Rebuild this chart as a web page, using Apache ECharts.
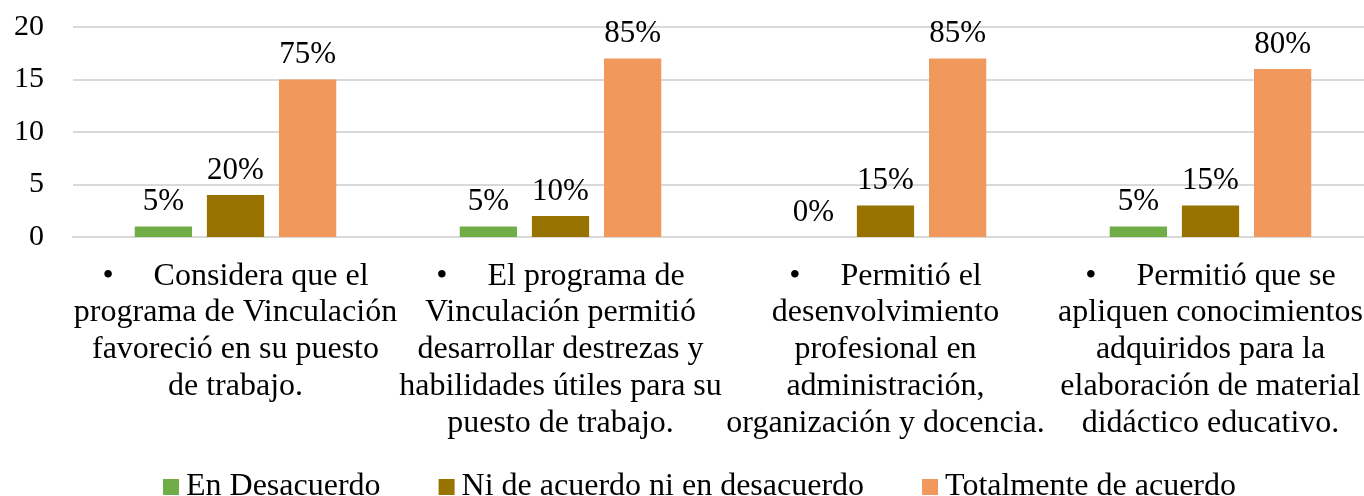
<!DOCTYPE html>
<html>
<head>
<meta charset="utf-8">
<script src="https://cdn.jsdelivr.net/npm/echarts@6/dist/echarts.min.js"></script>
<style>
  html, body { margin: 0; padding: 0; background: #fff; overflow: hidden; }
  #chart { width: 1373px; height: 496px; }
</style>
</head>
<body>
<div id="chart"></div>
<script>
// categories (line breaks as in the picture)
var categories = [
  '•     Considera que el\nprograma de Vinculación\nfavoreció en su puesto\nde trabajo.',
  '•     El programa de\nVinculación permitió\ndesarrollar destrezas y\nhabilidades útiles para su\npuesto de trabajo.',
  '•     Permitió el\ndesenvolvimiento\nprofesional en\nadministración,\norganización y docencia.',
  '•     Permitió que se\napliquen conocimientos\nadquiridos para la\nelaboración de material\ndidáctico educativo.'
];
var seriesNames = ['En Desacuerdo', 'Ni de acuerdo ni en desacuerdo', 'Totalmente de acuerdo'];
var desacuerdo = [1, 1, 0, 1];
var neutral = [4, 2, 3, 3];
var totalmente = [15, 17, 17, 16];
// percent labels shown over the bars
var desacuerdoPct = ['5%', '5%', '0%', '5%'];
var neutralPct = ['20%', '10%', '15%', '15%'];
var totalmentePct = ['75%', '85%', '85%', '80%'];
var yTicks = [0, 5, 10, 15, 20];

var colors = ['#70ad47', '#997300', '#f1995c'];
var font = 'Liberation Serif';

function barSeries(name, values, pct, color) {
  return {
    name: name,
    type: 'bar',
    barGap: '26%',
    barCategoryGap: '38%',
    itemStyle: { color: color },
    label: {
      show: true,
      position: 'top',
      distance: 9,
      color: '#000',
      fontFamily: font,
      fontSize: 31,
      formatter: function (p) { return pct[p.dataIndex]; }
    },
    data: values
  };
}

var myChart = echarts.init(document.getElementById('chart'));
var option = {
  animation: false,
  color: colors,
  grid: { left: 73, top: 27, right: 0, height: 210, containLabel: false },
  legend: {
    top: 466,
    left: 158,
    itemWidth: 16,
    itemHeight: 16,
    itemGap: 58,
    icon: 'rect',
    textStyle: { fontFamily: font, fontSize: 32, color: '#000', padding: [0, 0, 0, 2] },
    data: seriesNames
  },
  xAxis: {
    type: 'category',
    data: categories,
    axisLine: { show: true, lineStyle: { color: '#d9d9d9', width: 2 } },
    axisTick: { show: false },
    axisLabel: {
      interval: 0,
      margin: 21,
      color: '#000',
      fontFamily: font,
      fontSize: 32,
      lineHeight: 36.7
    }
  },
  yAxis: {
    type: 'value',
    min: yTicks[0],
    max: yTicks[yTicks.length - 1],
    interval: 5,
    axisLine: { show: false },
    axisTick: { show: false },
    splitLine: { lineStyle: { color: '#d9d9d9', width: 2 } },
    axisLabel: { margin: 29, color: '#000', fontFamily: font, fontSize: 30 }
  },
  series: [
    barSeries(seriesNames[0], desacuerdo, desacuerdoPct, colors[0]),
    barSeries(seriesNames[1], neutral, neutralPct, colors[1]),
    barSeries(seriesNames[2], totalmente, totalmentePct, colors[2])
  ]
};
myChart.setOption(option);
</script>
</body>
</html>
